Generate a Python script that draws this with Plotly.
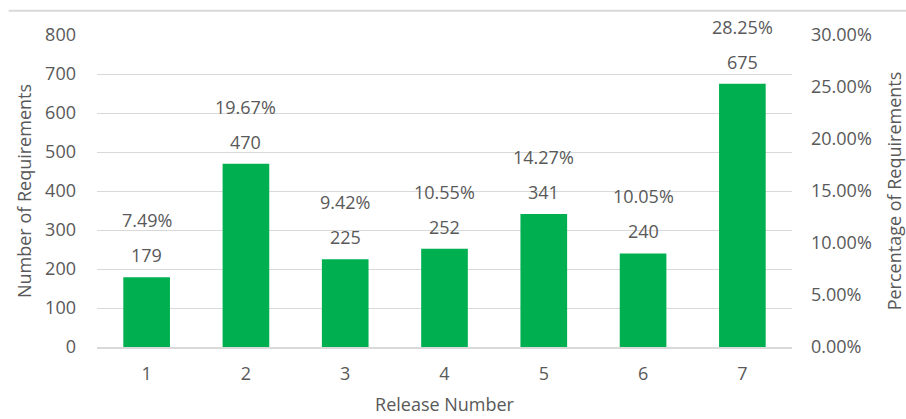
import plotly.graph_objects as go

# Requirements per release
releases = [1, 2, 3, 4, 5, 6, 7]
requirement_counts = [179, 470, 225, 252, 341, 240, 675]
requirement_share = [7.49, 19.67, 9.42, 10.55, 14.27, 10.05, 28.25]  # percent of total

left_ticks = [0, 100, 200, 300, 400, 500, 600, 700, 800]
right_ticks = [0.0, 0.05, 0.10, 0.15, 0.20, 0.25, 0.30]

GREEN = "#00B050"
TEXT = "#595959"
GRID = "#d9d9d9"
FONT = "Open Sans"

fig = go.Figure()

fig.add_trace(go.Bar(
    x=releases,
    y=requirement_counts,
    width=0.47,
    marker=dict(color=GREEN, line=dict(width=0)),
    hovertemplate="Release %{x}: %{y}<extra></extra>",
))

# share series on the secondary axis (carries the percentage scale, not drawn)
fig.add_trace(go.Scatter(
    x=releases,
    y=[p / 100 for p in requirement_share],
    yaxis="y2",
    mode="markers",
    marker=dict(opacity=0),
    hoverinfo="skip",
    showlegend=False,
))

# value labels: count just above each bar, share above the count
annotations = []
for rel, cnt, pct in zip(releases, requirement_counts, requirement_share):
    annotations.append(dict(
        x=rel, y=cnt, xref="x", yref="y", text=str(cnt),
        showarrow=False, yanchor="middle", yshift=22,
        font=dict(family=FONT, size=18, color=TEXT),
    ))
    annotations.append(dict(
        x=rel, y=cnt, xref="x", yref="y", text=f"{pct:.2f}%",
        showarrow=False, yanchor="middle", yshift=57,
        font=dict(family=FONT, size=18, color=TEXT),
    ))

fig.update_layout(
    width=906,
    height=419,
    margin=dict(l=97, r=114, t=35, b=72),
    paper_bgcolor="white",
    plot_bgcolor="white",
    showlegend=False,
    font=dict(family=FONT, size=18, color=TEXT),
    annotations=annotations,
    xaxis=dict(
        range=[0.5, 7.5],
        tickvals=releases,
        showgrid=False,
        zeroline=False,
        showline=True,
        linecolor=GRID,
        linewidth=1.5,
        ticks="",
        ticklabelstandoff=10,
        tickfont=dict(family=FONT, size=18, color=TEXT),
        title=dict(text="Release Number", standoff=14,
                   font=dict(family=FONT, size=18, color=TEXT)),
        automargin=False,
    ),
    yaxis=dict(
        range=[0, 800],
        tickvals=left_ticks,
        showgrid=True,
        gridcolor=GRID,
        gridwidth=1,
        zeroline=False,
        showline=False,
        ticks="",
        ticklabelstandoff=20,
        tickfont=dict(family=FONT, size=18, color=TEXT),
        title=dict(text="Number of Requirements", standoff=8,
                   font=dict(family=FONT, size=18, color=TEXT)),
        automargin=False,
    ),
    yaxis2=dict(
        overlaying="y",
        side="right",
        range=[0, 0.30],
        tickvals=right_ticks,
        tickformat=".2%",
        showgrid=False,
        zeroline=False,
        showline=False,
        ticks="",
        ticklabelstandoff=18,
        tickfont=dict(family=FONT, size=18, color=TEXT),
        title=dict(text="Percentage of Requirements", standoff=20,
                   font=dict(family=FONT, size=18, color=TEXT)),
        automargin=False,
    ),
    shapes=[dict(
        type="line", xref="paper", yref="paper",
        x0=-0.127, x1=1.17, y0=1.078, y1=1.078,
        line=dict(color=GRID, width=2),
    )],
)

fig.write_html("out.html")
